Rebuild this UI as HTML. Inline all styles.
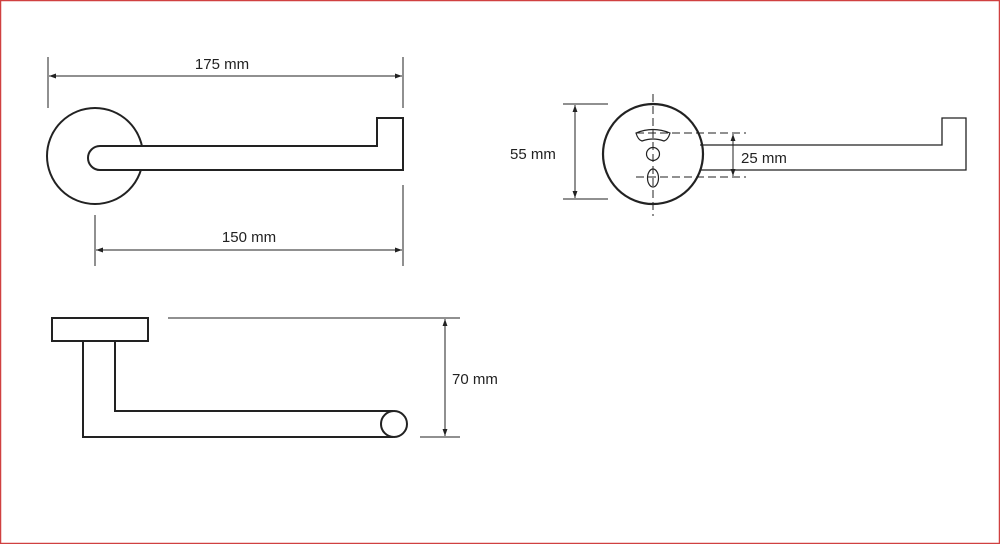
<!DOCTYPE html>
<html><head><meta charset="utf-8"><style>
html,body{margin:0;padding:0;background:#fff}
svg{display:block}
text{font-family:"Liberation Sans",sans-serif;font-size:15px;fill:#222}
</style></head><body>
<svg width="1000" height="544" viewBox="0 0 1000 544" xmlns="http://www.w3.org/2000/svg">
<defs>
<marker id="a" viewBox="0 0 10 10" refX="10" refY="5" markerWidth="7" markerHeight="7" orient="auto-start-reverse"><path d="M0,1.5 L10,5 L0,8.5 Z" fill="#222"/></marker>
</defs>
<rect x="0.5" y="0.5" width="999" height="543" fill="none" stroke="#d04040" stroke-width="1.5"/>
<g stroke="#222" fill="none">
<!-- top view -->
<line x1="48" y1="57" x2="48" y2="108" stroke-width="1"/>
<line x1="403" y1="57" x2="403" y2="108" stroke-width="1"/>
<line x1="49" y1="76" x2="402" y2="76" stroke-width="1" marker-start="url(#a)" marker-end="url(#a)"/>
<line x1="95" y1="215" x2="95" y2="266" stroke-width="1"/>
<line x1="403" y1="185" x2="403" y2="266" stroke-width="1"/>
<line x1="96" y1="250" x2="402" y2="250" stroke-width="1" marker-start="url(#a)" marker-end="url(#a)"/>
<circle cx="95" cy="156" r="48" stroke-width="2"/>
<path d="M100,146 L377,146 L377,118 L403,118 L403,170 L100,170 A12,12 0 0 1 100,146 Z" fill="#fff" stroke-width="2"/>
<!-- right view -->
<line x1="563" y1="104" x2="608" y2="104" stroke-width="1"/>
<line x1="563" y1="199" x2="608" y2="199" stroke-width="1"/>
<line x1="575" y1="105" x2="575" y2="198" stroke-width="1" marker-start="url(#a)" marker-end="url(#a)"/>
<path d="M700,145 L942,145 L942,118 L966,118 L966,170 L700,170" stroke-width="1.3"/>
<circle cx="653" cy="154" r="50" stroke-width="2.2"/>
<line x1="653" y1="94" x2="653" y2="216" stroke-width="1" stroke-dasharray="8,4"/>
<line x1="636" y1="133" x2="746" y2="133" stroke-width="1" stroke-dasharray="8,4"/>
<line x1="636" y1="177" x2="746" y2="177" stroke-width="1" stroke-dasharray="8,4"/>
<line x1="733" y1="134" x2="733" y2="176" stroke-width="1" marker-start="url(#a)" marker-end="url(#a)"/>
<path d="M636,133 Q653,126 670,133 Q668,140 664,141 Q653,137 642,141 Q638,140 636,133 Z" stroke-width="1.2"/>
<circle cx="653" cy="154" r="6.5" stroke-width="1.2"/>
<ellipse cx="653" cy="178" rx="5.5" ry="9" stroke-width="1.2"/>
<!-- side view -->
<rect x="52" y="318" width="96" height="23" stroke-width="2"/>
<path d="M83,341 L83,437 L393,437 M115,341 L115,411 L393,411" stroke-width="2"/>
<circle cx="394" cy="424" r="13" fill="#fff" stroke-width="2"/>
<line x1="168" y1="318" x2="460" y2="318" stroke-width="1"/>
<line x1="420" y1="437" x2="460" y2="437" stroke-width="1"/>
<line x1="445" y1="319" x2="445" y2="436" stroke-width="1" marker-start="url(#a)" marker-end="url(#a)"/>
</g>
<text x="222" y="69" text-anchor="middle">175 mm</text>
<text x="249" y="242" text-anchor="middle">150 mm</text>
<text x="510" y="159">55 mm</text>
<text x="741" y="163">25 mm</text>
<text x="452" y="384">70 mm</text>
</svg>
</body></html>
